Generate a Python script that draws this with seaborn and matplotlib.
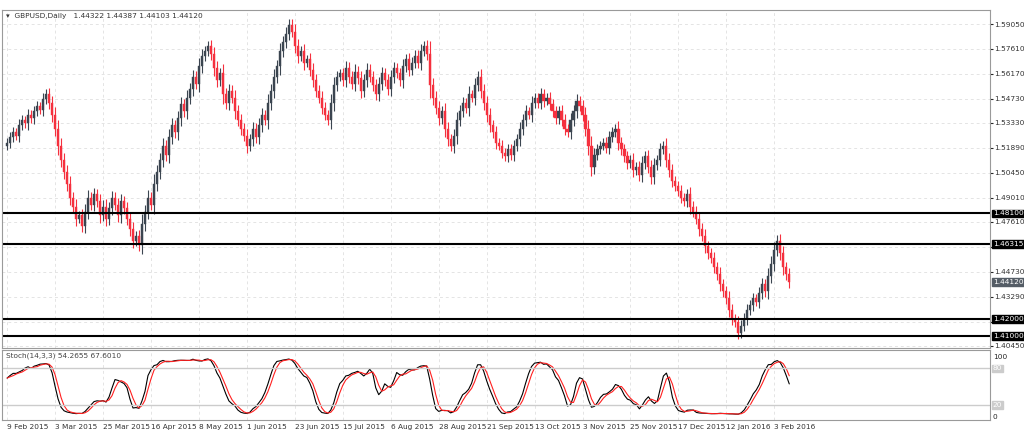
import matplotlib.pyplot as plt
import numpy as np
import pandas as pd
import seaborn as sns

# daily closes GBPUSD, 9 Feb 2015 .. 9 Feb 2016
closes = [
    1.522, 1.525, 1.528, 1.526, 1.532, 1.535, 1.533, 1.538, 1.536, 1.540, 1.543, 1.541, 1.547,
    1.550, 1.545, 1.538, 1.530, 1.520, 1.512, 1.505, 1.498, 1.490, 1.485, 1.478, 1.480, 1.474,
    1.482, 1.490, 1.486, 1.492, 1.488, 1.480, 1.485, 1.478, 1.484, 1.490, 1.486, 1.480, 1.488,
    1.484, 1.478, 1.472, 1.465, 1.468, 1.463,
    1.475, 1.482, 1.490, 1.486, 1.498, 1.505, 1.512, 1.520, 1.515, 1.525, 1.532, 1.528, 1.536,
    1.544, 1.540, 1.548, 1.553, 1.560, 1.556, 1.566, 1.572, 1.575,
    1.578, 1.573, 1.565, 1.558, 1.562, 1.550, 1.545, 1.552, 1.548, 1.540,
    1.535, 1.530, 1.526, 1.520, 1.524, 1.530, 1.525, 1.532, 1.538, 1.535,
    1.545, 1.552, 1.560, 1.566, 1.575, 1.580, 1.585, 1.590, 1.586,
    1.578, 1.572, 1.575, 1.568, 1.570, 1.564, 1.558, 1.552, 1.548, 1.542, 1.538, 1.535, 1.545,
    1.555, 1.560,
    1.562, 1.558, 1.565, 1.560, 1.556, 1.563, 1.559, 1.552, 1.558, 1.564, 1.560, 1.555, 1.550,
    1.556, 1.562, 1.558, 1.553, 1.560, 1.565, 1.562, 1.558, 1.566, 1.570, 1.564, 1.568, 1.572,
    1.568, 1.575, 1.578, 1.573,
    1.555, 1.548, 1.542, 1.536, 1.540, 1.530, 1.524, 1.520, 1.526, 1.535, 1.540, 1.545, 1.542,
    1.550, 1.548,
    1.555, 1.560, 1.552, 1.545, 1.538, 1.532, 1.528, 1.522, 1.520, 1.516, 1.514, 1.518, 1.515,
    1.520, 1.524,
    1.530, 1.535, 1.540, 1.538, 1.545, 1.548, 1.545, 1.550, 1.546, 1.548, 1.544, 1.540, 1.536,
    1.540, 1.535,
    1.530, 1.528, 1.535, 1.540, 1.546, 1.543, 1.538, 1.530, 1.520, 1.508,
    1.515, 1.518, 1.520, 1.522, 1.519, 1.525, 1.528, 1.530, 1.522, 1.518, 1.514, 1.510, 1.512,
    1.506, 1.508,
    1.503, 1.510, 1.514, 1.508, 1.502, 1.509, 1.512, 1.518, 1.520, 1.512, 1.506, 1.500, 1.497,
    1.494, 1.490,
    1.488, 1.492, 1.485, 1.482, 1.478, 1.472, 1.468, 1.462, 1.458, 1.455, 1.450, 1.446, 1.440,
    1.436, 1.432,
    1.425, 1.420, 1.418, 1.412, 1.416, 1.420, 1.425, 1.428, 1.432, 1.430,
    1.435, 1.440, 1.436, 1.445, 1.452, 1.460, 1.465, 1.458, 1.450, 1.446, 1.4412,
]
first_open = 1.520

level_lines = [1.48100, 1.46315, 1.42000, 1.41000]
last_price = 1.44120
price_ticks = [1.59050, 1.57610, 1.56170, 1.54730, 1.53330, 1.51890, 1.50450, 1.49010,
               1.47610, 1.46170, 1.44730, 1.43290, 1.41850, 1.40450]
date_labels = ['9 Feb 2015', '3 Mar 2015', '25 Mar 2015', '16 Apr 2015', '8 May 2015',
               '1 Jun 2015', '23 Jun 2015', '15 Jul 2015', '6 Aug 2015', '28 Aug 2015',
               '21 Sep 2015', '13 Oct 2015', '3 Nov 2015', '25 Nov 2015', '17 Dec 2015',
               '12 Jan 2016', '3 Feb 2016']

df = pd.DataFrame({'close': closes})
df['open'] = [first_open] + closes[:-1]
body = (df['close'] - df['open']).abs()
df['high'] = df[['open', 'close']].max(axis=1) + 0.002 + 0.3 * body
df['low'] = df[['open', 'close']].min(axis=1) - 0.002 - 0.3 * body
df['x'] = np.arange(len(df))

# stochastic 14,3,3
hh = df['high'].rolling(14, min_periods=1).max()
ll = df['low'].rolling(14, min_periods=1).min()
raw = 100 * (df['close'] - ll) / (hh - ll)
df['k'] = raw.rolling(3, min_periods=1).mean()
df['d'] = df['k'].rolling(3, min_periods=1).mean()

sns.set_style('white')
plt.rcParams['font.family'] = ['DejaVu Sans']
fs = 5.3

fig = plt.figure(figsize=(10.24, 4.38), dpi=100)
ax = fig.add_axes([0.002, 90 / 438, 988 / 1024, 338 / 438])
ax2 = fig.add_axes([0.002, 18 / 438, 988 / 1024, 70 / 438], sharex=ax)

bull, bear = '#3b4550', '#f5303e'
cols = np.where(df['close'] >= df['open'], bull, bear)
ax.vlines(df['x'], df['low'], df['high'], colors=cols, lw=0.8)
ax.bar(df['x'], df['close'] - df['open'], bottom=df['open'], width=0.7, color=cols,
       edgecolor=cols, linewidth=0.3)
for lv in level_lines:
    ax.axhline(lv, color='black', lw=1.5)

ax.set_ylim(1.4032, 1.5986)
ax.set_xlim(-1.7, 328)
ax.yaxis.tick_right()
ax.set_yticks(price_ticks)
ax.set_yticklabels([f'{v:.5f}' for v in price_ticks], fontsize=fs, color='#333333')
ax.grid(True, color='#e4e4e4', ls=(0, (3, 3)), lw=0.7)
ax.tick_params(axis='x', labelbottom=False, length=0)
ax.tick_params(axis='y', length=2, pad=1)
for lv in level_lines:
    ax.annotate(f'{lv:.5f}', xy=(1.0, lv), xycoords=('axes fraction', 'data'),
                xytext=(2, 0), textcoords='offset points', va='center', fontsize=fs,
                color='white', bbox=dict(boxstyle='square,pad=0.12', fc='black', ec='black'))
ax.annotate(f'{last_price:.5f}', xy=(1.0, last_price), xycoords=('axes fraction', 'data'),
            xytext=(2, 0), textcoords='offset points', va='center', fontsize=fs,
            color='white', bbox=dict(boxstyle='square,pad=0.12', fc='#555d66', ec='#555d66'))
ax.text(0.004, 0.99, '▾  GBPUSD,Daily   1.44322 1.44387 1.44103 1.44120',
        transform=ax.transAxes, fontsize=fs, va='top', color='#333333')
for s in ax.spines.values():
    s.set_color('#9a9a9a')

sns.lineplot(data=df, x='x', y='k', ax=ax2, color='black', lw=0.8)
sns.lineplot(data=df, x='x', y='d', ax=ax2, color='#ff2020', lw=0.8)
ax2.axhline(80, color='#cccccc', lw=1)
ax2.axhline(20, color='#cccccc', lw=1)
ax2.set_ylim(-5, 110)
ax2.yaxis.tick_right()
ax2.set_yticks([100, 0])
ax2.set_yticklabels(['100', '0'], fontsize=fs)
ax2.set_ylabel('')
ax2.set_xlabel('')
ax2.grid(True, axis='x', color='#e4e4e4', ls=(0, (3, 3)), lw=0.7)
ax2.set_xticks(np.arange(len(date_labels)) * 16)
ax2.set_xticklabels(date_labels, fontsize=fs, ha='left', color='#333333')
ax2.tick_params(axis='x', length=2, pad=1)
ax2.tick_params(axis='y', length=0, pad=2)
for lv in (80, 20):
    ax2.annotate(str(lv), xy=(1.0, lv), xycoords=('axes fraction', 'data'), xytext=(2, 0),
                 textcoords='offset points', va='center', fontsize=fs, color='white',
                 bbox=dict(boxstyle='square,pad=0.1', fc='#cccccc', ec='#cccccc'))
ax2.text(0.004, 0.97, f'Stoch(14,3,3) {df["k"].iloc[-1]:.4f} {df["d"].iloc[-1]:.4f}',
         transform=ax2.transAxes, fontsize=fs, va='top', color='#444444')
for s in ax2.spines.values():
    s.set_color('#9a9a9a')

fig.savefig('out.png', dpi=100)
